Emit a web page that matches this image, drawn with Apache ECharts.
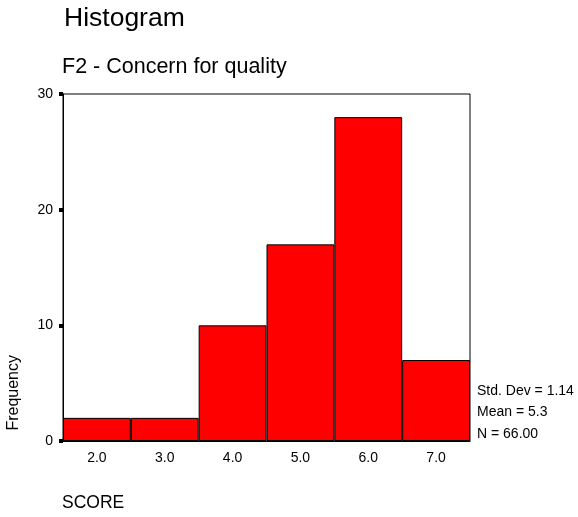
<!DOCTYPE html>
<html>
<head>
<meta charset="utf-8">
<script src="https://cdn.jsdelivr.net/npm/echarts@6/dist/echarts.min.js"></script>
<style>
  html, body { margin: 0; padding: 0; background: #fff; }
  #chart { width: 578px; height: 517px; }
</style>
</head>
<body>
<div id="chart"></div>
<script>
// histogram data - F2 concern for quality
var scoreLabels = ['2.0', '3.0', '4.0', '5.0', '6.0', '7.0'];
var frequency = [2, 2, 10, 17, 28, 7];
var yTicks = [0, 10, 20, 30];
var statLines = ['Std. Dev = 1.14', 'Mean = 5.3', 'N = 66.00'];

var font = 'Arial, "Liberation Sans", sans-serif';
var myChart = echarts.init(document.getElementById('chart'));

var option = {
    animation: false,
    backgroundColor: '#fff',
    title: [
        { text: 'Histogram', left: 64, top: 5, padding: 0,
          textStyle: { fontFamily: font, fontSize: 26.5, fontWeight: 'normal', color: '#000' } },
        { text: 'F2 - Concern for quality', left: 62, top: 56, padding: 0,
          textStyle: { fontFamily: font, fontSize: 21.5, fontWeight: 'normal', color: '#000' } }
    ],
    grid: {
        left: 63, right: 108, top: 94, bottom: 76,
        show: true, borderColor: '#000', borderWidth: 1, backgroundColor: '#fff'
    },
    xAxis: {
        type: 'category',
        data: scoreLabels,
        axisLine: { lineStyle: { color: '#000', width: 1 } },
        axisTick: { alignWithLabel: true, length: 4, lineStyle: { color: '#000', width: 6 } },
        axisLabel: { color: '#000', fontFamily: font, fontSize: 14, margin: 10 }
    },
    yAxis: {
        type: 'value',
        min: yTicks[0], max: yTicks[yTicks.length - 1], interval: 10,
        splitLine: { show: false },
        axisLine: { show: true, lineStyle: { color: '#000', width: 1 } },
        axisTick: { show: true, length: 4, lineStyle: { color: '#000', width: 4 } },
        axisLabel: { color: '#000', fontFamily: font, fontSize: 14, margin: 10 }
    },
    series: [{
        type: 'bar',
        data: frequency,
        barCategoryGap: 0,
        itemStyle: { color: '#ff0000', borderColor: '#000', borderWidth: 1 }
    }],
    graphic: [
        { type: 'text', left: 6, top: 355, rotation: Math.PI / 2,
          style: { text: 'Frequency', font: '16px ' + font, fill: '#000' } },
        { type: 'text', left: 62, top: 494,
          style: { text: 'SCORE', font: '17.5px ' + font, fill: '#000' } },
        { type: 'text', left: 477, top: 380,
          style: { text: statLines.join('\n'), font: '14px ' + font, fill: '#000', lineHeight: 21.5 } }
    ]
};
myChart.setOption(option);
</script>
</body>
</html>
